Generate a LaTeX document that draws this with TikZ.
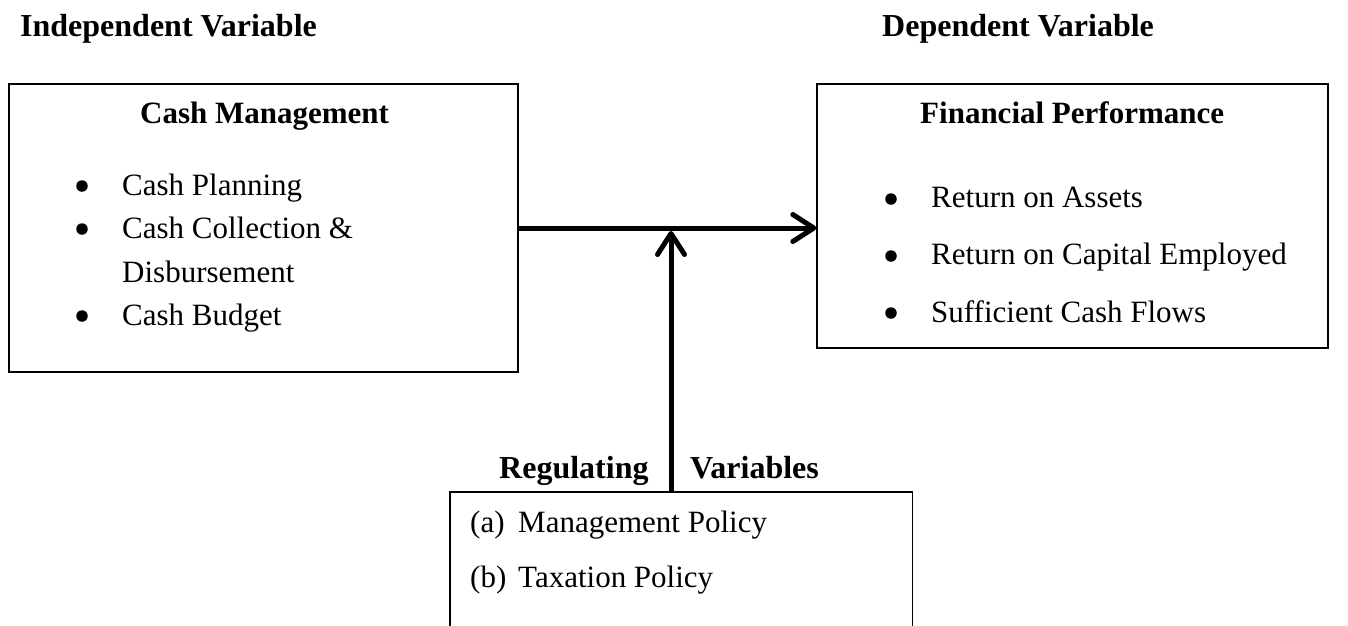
\documentclass[tikz,border=0pt]{standalone}
\usepackage{fontspec}
\setmainfont{Liberation Serif}
\usetikzlibrary{arrows.meta}
\tikzset{
  box/.style={draw=black, line width=1.4pt, rectangle, inner sep=0pt},
  txt/.style={anchor=base west, inner sep=0pt, font=\fontsize{31pt}{37pt}\selectfont},
  hd/.style={txt, font=\fontsize{32pt}{38pt}\selectfont\bfseries},
  boxhd/.style={txt, font=\fontsize{31pt}{37pt}\selectfont\bfseries},
  bul/.style={circle, fill=black, inner sep=0pt, minimum size=11.5pt},
  flow/.style={line width=5pt, -{Straight Barb[length=21pt,width=27pt,line cap=round,line join=round]}}
}
\begin{document}
\begin{tikzpicture}[x=1pt,y=-1pt]
\useasboundingbox (0,0) rectangle (1348,625);
\clip (0,0) rectangle (1348,625);
% headers
\node[hd] (hind) at (20,36) {Independent Variable};
\node[hd] (hdep) at (882,36) {Dependent Variable};
% boxes
\node[box, minimum width=509pt, minimum height=288pt] (cm) at (263.5,228) {};
\node[box, minimum width=511pt, minimum height=264pt] (fp) at (1072.5,216) {};
\node[minimum width=462pt, minimum height=200pt, inner sep=0pt, anchor=north west] (reg) at (450,492) {};
\draw[line width=1.4pt] (reg.south west) -- (reg.north west) -- (reg.north east) -- (reg.south east);
% cash management
\node[boxhd] (cmt) at (140,123) {Cash Management};
\node[bul] (b1) at (82,186) {};
\node[txt] (c1) at (122,195) {Cash Planning};
\node[bul] (b2) at (82,229) {};
\node[txt] (c2) at (122,238) {Cash Collection \&};
\node[txt] (c3) at (122,282) {Disbursement};
\node[bul] (b3) at (82,316) {};
\node[txt] (c4) at (122,325) {Cash Budget};
% financial performance
\node[boxhd] (fpt) at (920,123) {Financial Performance};
\node[bul] (d1) at (891,199) {};
\node[txt] (f1) at (931,207) {Return on Assets};
\node[bul] (d2) at (891,256) {};
\node[txt] (f2) at (931,264) {Return on Capital Employed};
\node[bul] (d3) at (891,313) {};
\node[txt] (f3) at (931,322) {Sufficient Cash Flows};
% regulating
\node[hd] (rv1) at (499,478) {Regulating};
\node[hd] (rv2) at (690,478) {Variables};
\node[txt] (ra) at (470,532) {(a)};
\node[txt] (r1) at (518,532) {Management Policy};
\node[txt] (rb) at (470,587) {(b)};
\node[txt] (r2) at (518,587) {Taxation Policy};
% connectors
\coordinate (j) at (671,231);
\draw[flow] (cm.east) -- (cm.east -| fp.west);
\draw[flow] (j |- reg.north) -- (j);
\end{tikzpicture}
\end{document}
